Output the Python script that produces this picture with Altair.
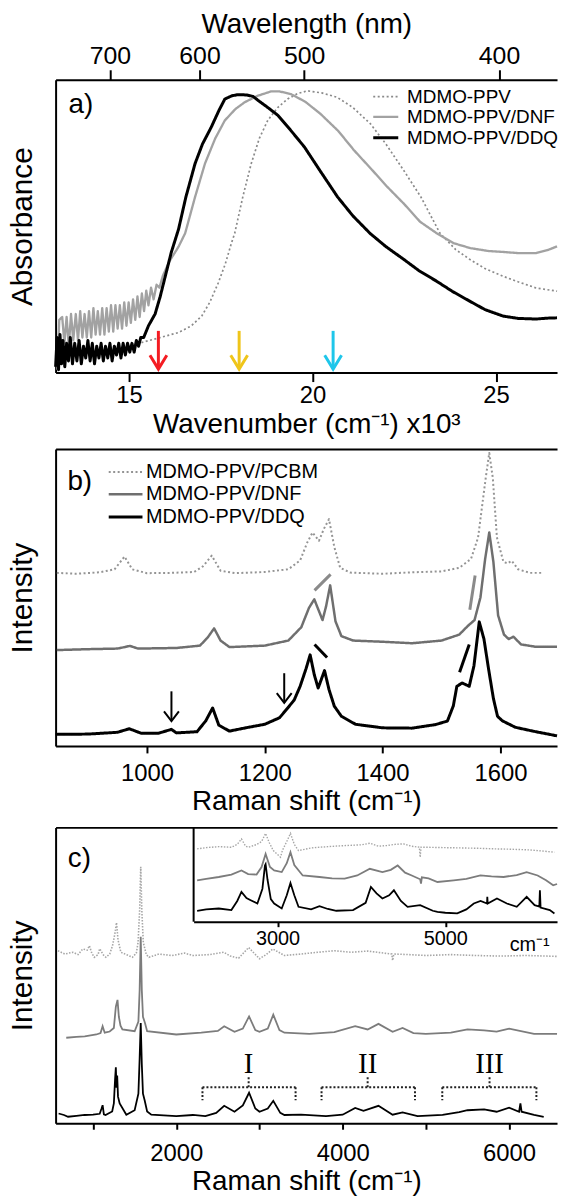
import json
import altair as alt
import pandas as pd

FONT = "Liberation Sans"
SERIF = "Liberation Serif"
W = 505

# ================= Panel a: absorbance (wavenumber x10^3 cm-1, normalised absorbance) =================
a_ppv = [(15.00, 0.085), (15.35, 0.103), (15.80, 0.118), (16.35, 0.137), (16.70, 0.160), (16.98, 0.193),
         (17.20, 0.240), (17.43, 0.306), (17.62, 0.370), (17.79, 0.442), (17.88, 0.476), (18.10, 0.600),
         (18.33, 0.714), (18.55, 0.800), (18.78, 0.861), (19.05, 0.905), (19.32, 0.934), (19.60, 0.953),
         (19.86, 0.962), (20.25, 0.955), (20.67, 0.940), (21.10, 0.905), (21.58, 0.849), (22.00, 0.780),
         (22.48, 0.691), (22.95, 0.600), (23.47, 0.476), (23.90, 0.420), (24.29, 0.386), (24.70, 0.355),
         (25.19, 0.329), (25.60, 0.310), (26.09, 0.289), (26.40, 0.283), (26.66, 0.278)]
a_dnf = [(13.05, 0.01), (13.10, 0.18), (13.18, 0.19), (13.24, 0.10), (13.30, 0.19), (13.36, 0.09), (13.42, 0.20),
         (13.48, 0.11), (13.55, 0.20), (13.61, 0.11), (13.67, 0.21), (13.73, 0.12), (13.79, 0.20), (13.85, 0.12),
         (13.91, 0.21), (13.97, 0.12), (14.03, 0.22), (14.09, 0.13), (14.15, 0.21), (14.21, 0.13), (14.27, 0.22),
         (14.33, 0.13), (14.39, 0.22), (14.45, 0.14), (14.51, 0.23), (14.57, 0.14), (14.63, 0.23), (14.69, 0.15),
         (14.75, 0.23), (14.81, 0.15), (14.87, 0.24), (14.93, 0.16), (14.99, 0.24), (15.05, 0.17), (15.11, 0.25),
         (15.17, 0.18), (15.23, 0.26), (15.29, 0.19), (15.35, 0.27), (15.41, 0.21), (15.47, 0.28), (15.53, 0.23),
         (15.60, 0.29), (15.67, 0.25), (15.75, 0.30), (15.83, 0.29), (15.92, 0.33), (16.10, 0.38), (16.35, 0.43),
         (16.53, 0.476), (16.80, 0.600), (17.07, 0.714), (17.35, 0.800), (17.61, 0.861), (17.90, 0.900),
         (18.15, 0.923), (18.50, 0.945), (18.87, 0.960), (19.10, 0.960), (19.41, 0.951), (19.80, 0.925),
         (20.22, 0.883), (20.70, 0.825), (21.13, 0.759), (21.60, 0.695), (22.03, 0.635), (22.50, 0.575),
         (22.93, 0.515), (23.38, 0.476), (23.84, 0.442), (24.30, 0.425), (24.80, 0.415), (25.19, 0.412),
         (25.60, 0.408), (26.09, 0.408), (26.40, 0.418), (26.66, 0.431)]
a_ddq = [(13.00, 0.02), (13.04, 0.12), (13.08, 0.01), (13.12, 0.13), (13.16, 0.03), (13.20, 0.11), (13.25, 0.02),
         (13.30, 0.10), (13.35, 0.04), (13.40, 0.12), (13.46, 0.03), (13.52, 0.10), (13.58, 0.04), (13.64, 0.11),
         (13.70, 0.03), (13.76, 0.09), (13.82, 0.05), (13.88, 0.11), (13.94, 0.04), (14.00, 0.10), (14.06, 0.03),
         (14.12, 0.09), (14.18, 0.05), (14.24, 0.10), (14.30, 0.04), (14.36, 0.09), (14.42, 0.05), (14.48, 0.10),
         (14.54, 0.04), (14.60, 0.09), (14.66, 0.06), (14.72, 0.10), (14.78, 0.05), (14.84, 0.10), (14.90, 0.06),
         (14.96, 0.10), (15.02, 0.07), (15.08, 0.10), (15.14, 0.07), (15.20, 0.11), (15.26, 0.09), (15.32, 0.12),
         (15.40, 0.12), (15.53, 0.16), (15.71, 0.20), (15.85, 0.26), (15.99, 0.33), (16.15, 0.41), (16.35, 0.49),
         (16.55, 0.60), (16.80, 0.714), (17.00, 0.780), (17.24, 0.838), (17.45, 0.895), (17.61, 0.934),
         (17.80, 0.945), (17.97, 0.949), (18.20, 0.948), (18.38, 0.943), (18.51, 0.930), (18.75, 0.908),
         (19.05, 0.879), (19.40, 0.828), (19.78, 0.770), (20.20, 0.690), (20.68, 0.600), (21.10, 0.535),
         (21.57, 0.475), (22.00, 0.430), (22.48, 0.387), (22.90, 0.348), (23.38, 0.312), (23.80, 0.278),
         (24.28, 0.244), (24.70, 0.215), (25.19, 0.193), (25.60, 0.185), (26.09, 0.183), (26.40, 0.186),
         (26.66, 0.187)]
a_series = ["MDMO-PPV", "MDMO-PPV/DNF", "MDMO-PPV/DDQ"]
a_colors = ["#8a8a8a", "#a2a2a2", "#000000"]
a_dash = [[2, 2.5], [1, 0], [1, 0]]
a_width = [1.7, 3, 3]
a_xdom = [13, 26.66]
a_bottom_ticks = [15, 20, 25]
a_top_tick_wn = [14.48, 16.92, 19.77, 25.08]
a_top_tick_nm = ["700", "600", "500", "400"]
a_arrow_wn = [15.8, 18.0, 20.56]
a_arrow_col = ["#f41c22", "#efc51a", "#1ec6ea"]
a_arrow_top, a_arrow_tip = 0.1425, 0.012
a_tag = ("a)", 13.69, 0.914)

# ================= Panel b: Raman 840-1700 cm-1 =================
b_pcbm = [(847, 58.3), (880, 58.0), (920, 58.5), (945, 59.5), (962, 63.8), (975, 59.5), (1000, 58.2), (1040, 58.3),
          (1080, 58.6), (1095, 60.5), (1110, 64.1), (1125, 59.0), (1150, 58.2), (1200, 58.6), (1240, 59.5),
          (1260, 62.5), (1272, 68.5), (1281, 71.9), (1292, 69.1), (1300, 73.0), (1309, 76.4), (1318, 67.0),
          (1328, 60.0), (1345, 58.4), (1400, 58.0), (1450, 58.5), (1500, 58.8), (1530, 60.0), (1550, 63.0),
          (1562, 70.2), (1575, 90.3), (1581, 98.7), (1587, 90.3), (1594, 70.2), (1605, 62.0), (1612, 61.5),
          (1619, 62.4), (1630, 59.5), (1650, 58.3), (1671, 58.3)]
b_dnf = [(847, 32.3), (900, 32.6), (950, 32.8), (962, 33.3), (971, 33.7), (985, 32.8), (1050, 33.0), (1090, 33.8),
         (1103, 36.5), (1114, 39.6), (1125, 35.5), (1140, 33.3), (1200, 33.8), (1240, 35.5), (1262, 40.0),
         (1275, 46.5), (1284, 49.4), (1298, 42.4), (1304, 47.0), (1311, 54.1), (1320, 42.0), (1330, 37.0),
         (1350, 35.5), (1400, 35.1), (1450, 34.6), (1500, 35.5), (1530, 37.5), (1545, 40.5), (1556, 42.4),
         (1566, 50.0), (1574, 63.0), (1581, 71.9), (1588, 62.0), (1596, 44.0), (1606, 37.5), (1614, 36.0),
         (1622, 36.8), (1635, 34.2), (1660, 33.4), (1696, 33.4)]
b_ddq = [(845, 3.9), (900, 4.0), (950, 4.6), (970, 5.8), (990, 4.3), (1020, 4.3), (1041.6, 5.6), (1050, 4.4),
         (1085, 4.8), (1100, 8.5), (1111.5, 12.8), (1122, 7.0), (1140, 5.0), (1170, 6.2), (1200, 7.3), (1225, 9.5),
         (1239, 12.8), (1250, 15.5), (1260, 20.1), (1270, 26.0), (1277, 30.7), (1284, 24.0), (1290.6, 19.5),
         (1301.4, 25.4), (1309, 19.0), (1318, 13.4), (1330, 10.0), (1354, 7.3), (1400, 6.1), (1450, 6.0),
         (1490, 7.2), (1510, 8.4), (1520, 13.5), (1526, 20.1), (1535, 21.2), (1547, 20.1), (1555, 27.0),
         (1564, 41.8), (1572, 36.0), (1580, 25.7), (1588, 16.0), (1595, 10.0), (1603, 8.5), (1610, 7.8),
         (1625, 6.3), (1655, 5.0), (1696, 3.4)]
b_series = ["MDMO-PPV/PCBM", "MDMO-PPV/DNF", "MDMO-PPV/DDQ"]
b_colors = ["#949494", "#6f6f6f", "#000000"]
b_dash = [[2, 2.5], [1, 0], [1, 0]]
b_width = [2, 3, 2.6]
b_xdom = [845, 1696]
b_ticks = [1000, 1200, 1400, 1600]
b_arrow_wn = [1041.6, 1233]
b_arrow_top = [18.4, 24.5]
b_arrow_tip = [8.4, 14.5]
# marker dashes: (x1, y1, x2, y2, colour)
b_marks = [(1284.5, 52.4, 1311.7, 57.8, "#8a8a8a"), (1557, 57.4, 1548, 45.9, "#8a8a8a"),
           (1284.5, 34.2, 1305.7, 29.8, "#000000"), (1547, 34.2, 1530.6, 24.8, "#000000")]
b_tag = ("b)", 886, 89.0)

# ================= Panel c: Raman 550-6600 cm-1 =================
c_pcbm = [(578, 58.3), (660, 57.2), (757, 57.8), (820, 57.0), (876, 58.9), (930, 58.5), (956, 60.0), (985, 57.5),
          (1015, 56.1), (1060, 57.0), (1080, 59.0), (1095, 58.3), (1120, 57.0), (1155, 56.1), (1200, 57.2),
          (1234, 60.0), (1262, 64.0), (1282, 67.8), (1300, 62.0), (1334, 57.8), (1400, 57.0), (1473, 56.1),
          (1520, 57.5), (1541, 61.1), (1560, 72.0), (1573, 86.7), (1586, 72.0), (1604, 61.1), (1640, 57.0),
          (1672, 56.1), (1791, 57.2), (1950, 56.7), (2100, 57.5), (2200, 56.7), (2400, 57.0), (2572, 57.8),
          (2650, 56.5), (2750, 55.8), (2870, 59.4), (3000, 55.6), (3080, 57.0), (3161, 58.9), (3300, 56.7),
          (3500, 57.2), (3700, 57.8), (3900, 58.3), (4100, 57.8), (4300, 58.2), (4500, 57.5), (4590, 57.2),
          (4600, 55.0), (4615, 57.2), (4800, 57.0), (5000, 56.7), (5300, 57.0), (5600, 56.7), (5900, 56.5),
          (6200, 56.7), (6576, 56.4)]
c_dnf = [(678, 28.9), (800, 29.2), (900, 29.4), (1040, 30.0), (1090, 30.5), (1115, 32.8), (1140, 30.6), (1200, 31.0),
         (1250, 32.2), (1274, 39.4), (1294, 41.7), (1310, 36.0), (1330, 33.0), (1353, 31.7), (1500, 31.1),
         (1545, 34.4), (1560, 45.0), (1573, 63.0), (1586, 45.0), (1600, 36.0), (1624, 33.9), (1650, 31.1),
         (2000, 30.0), (2300, 30.6), (2500, 31.2), (2576, 32.8), (2700, 30.9), (2800, 32.0), (2875, 36.1),
         (2950, 31.5), (3000, 30.9), (3100, 32.0), (3166, 36.7), (3240, 31.5), (3300, 30.6), (3600, 30.2),
         (3900, 30.8), (4150, 32.8), (4300, 31.7), (4430, 33.6), (4600, 30.9), (4720, 32.2), (4850, 30.5),
         (5000, 30.2), (5300, 30.6), (5500, 31.7), (5700, 31.4), (5850, 31.0), (6000, 32.0), (6300, 30.2),
         (6576, 30.2)]
c_ddq = [(586, 3.3), (650, 2.8), (700, 2.2), (800, 2.5), (900, 2.8), (1000, 2.9), (1080, 3.2), (1100, 4.8),
         (1115, 6.1), (1130, 3.0), (1150, 2.8), (1230, 4.0), (1250, 6.7), (1265, 15.0), (1274, 18.9), (1282, 12.0),
         (1290, 16.1), (1300, 9.0), (1320, 6.7), (1400, 2.9), (1500, 4.4), (1545, 10.0), (1560, 22.0),
         (1573, 33.9), (1586, 20.0), (1600, 10.0), (1620, 7.8), (1650, 4.0), (1700, 2.9), (2000, 2.4),
         (2200, 2.8), (2350, 2.4), (2480, 3.5), (2576, 5.9), (2700, 3.9), (2800, 6.0), (2875, 10.3), (2950, 5.0),
         (3000, 3.9), (3100, 5.0), (3166, 7.6), (3250, 3.5), (3300, 2.8), (3500, 2.9), (3800, 2.4), (4000, 2.9),
         (4150, 5.2), (4250, 4.2), (4430, 5.9), (4600, 2.9), (4720, 3.7), (4900, 2.4), (5200, 2.8), (5400, 3.8),
         (5500, 4.4), (5700, 4.7), (5850, 3.9), (6000, 5.3), (6120, 3.9), (6136, 6.7), (6150, 3.9), (6300, 2.8),
         (6416, 2.2)]
c_colors = ["#a6a6a6", "#7c7c7c", "#000000"]
c_xdom = [550, 6576]
c_ticks = [1000, 2000, 3000, 4000, 5000, 6000]
c_bracket_start = [2315, 3746, 5197]
c_bracket_end = [3434, 4869, 6328]
c_bracket_mid = [2870, 4300, 5765]
c_bracket_label = ["I", "II", "III"]
c_bracket_y, c_bracket_foot, c_bracket_head, c_label_y = 12.2, 7.8, 15.6, 20.0
c_tag = ("c)", 836, 89.4)

# inset (2000-6330 cm-1)
i_pcbm = [(2042, 77.2), (2150, 78.5), (2300, 79.6), (2450, 78.9), (2520, 82.0), (2570, 87.7), (2620, 80.0),
          (2655, 78.9), (2750, 81.8), (2810, 85.0), (2858, 93.6), (2900, 84.0), (2950, 75.4), (3035, 68.4),
          (3060, 76.0), (3110, 85.0), (3154, 93.6), (3200, 82.0), (3250, 75.4), (3400, 78.2), (3600, 79.6),
          (3800, 80.7), (4000, 81.5), (4100, 83.2), (4200, 80.0), (4300, 80.7), (4400, 82.0), (4500, 82.5),
          (4600, 80.0), (4690, 79.0), (4700, 68.4), (4710, 79.0), (4800, 78.9), (5000, 78.5), (5200, 78.2),
          (5400, 77.8), (5600, 77.2), (5800, 76.8), (6000, 76.1), (6150, 75.0), (6300, 73.7)]
i_dnf = [(2042, 43.9), (2150, 45.5), (2300, 47.4), (2450, 50.0), (2570, 54.4), (2650, 50.5), (2750, 50.0),
         (2810, 58.0), (2858, 71.9), (2910, 58.0), (2960, 54.4), (3050, 52.6), (3110, 62.0), (3154, 73.7),
         (3200, 60.0), (3300, 49.0), (3500, 47.4), (3650, 46.0), (3800, 45.6), (3950, 49.0), (4100, 56.1),
         (4250, 52.6), (4350, 55.0), (4432, 59.6), (4520, 52.0), (4600, 49.0), (4700, 45.0), (4710, 40.4),
         (4720, 47.0), (4800, 46.0), (4906, 42.1), (5100, 43.9), (5250, 45.5), (5418, 49.1), (5550, 48.0),
         (5694, 47.4), (5850, 49.5), (5969, 52.6), (6100, 49.0), (6200, 44.0), (6285, 38.6), (6331, 40.0)]
i_ddq = [(2042, 11.6), (2150, 13.0), (2300, 14.0), (2450, 12.3), (2520, 22.0), (2570, 31.6), (2630, 25.0),
         (2680, 22.8), (2760, 19.3), (2820, 35.0), (2850, 59.6), (2858, 61.0), (2880, 45.0), (2920, 24.0),
         (2960, 19.3), (3050, 14.0), (3110, 28.0), (3154, 41.1), (3200, 28.0), (3250, 15.8), (3400, 13.0),
         (3500, 16.5), (3600, 13.5), (3700, 11.6), (3900, 12.3), (4050, 20.0), (4113, 36.8), (4180, 30.0),
         (4250, 24.6), (4330, 28.0), (4387, 33.3), (4470, 22.0), (4550, 15.8), (4700, 17.5), (4850, 11.6),
         (4906, 10.5), (5000, 9.5), (5142, 8.8), (5250, 13.0), (5339, 19.3), (5420, 22.0), (5497, 19.3),
         (5500, 26.3), (5505, 19.3), (5615, 24.6), (5733, 19.3), (5851, 15.8), (5969, 26.3), (6064, 17.5),
         (6120, 16.0), (6127, 33.3), (6135, 15.0), (6245, 12.3), (6300, 8.8)]
i_xdom = [2000, 6331]
i_xrange = [139, 505]
i_height = 95
i_ticks = [3000, 5000]
i_unit = ("cm\u207b\u00b9", 6005, -14)

# ================= helpers =================
AXIS_COMMON = dict(labelFont=FONT, titleFont=FONT, labelColor="black", titleColor="black",
                   domainColor="black", tickColor="black", domainWidth=2, tickWidth=2, grid=False,
                   titleFontWeight="normal")
C_HEIGHT = 298


def frame(pairs, name=None):
    d = pd.DataFrame(pairs, columns=["wn", "v"])
    if name is not None:
        d["series"] = name
    return d


def xs(dom):
    return alt.Scale(domain=dom, nice=False, zero=False)


def ys():
    return alt.Scale(domain=[0, 100], nice=False, zero=False)


def yaxis(title):
    return alt.Axis(title=title, labels=False, ticks=False, titleFontSize=30, titlePadding=18, **AXIS_COMMON)


def top_border(dom, pairs, **kw):
    return alt.Chart(frame(pairs)).mark_point(opacity=0).encode(
        x=alt.X("wn:Q", scale=xs(dom), axis=alt.Axis(orient="top", **kw, **AXIS_COMMON)))


def chevron(ratio):
    return "M-1,-%s L0,0 L1,-%s" % (ratio, ratio)


# ================= Panel a =================
a_df = pd.concat([frame(a_ppv, a_series[0]), frame(a_dnf, a_series[1]), frame(a_ddq, a_series[2])])
a_leg = alt.Legend(orient="none", legendX=322, legendY=7, title=None, labelFontSize=19, labelFont=FONT,
                   labelColor="black", symbolType="M-1.4,0H1.4", symbolSize=324, labelLimit=400, rowPadding=0,
                   labelOffset=11)
a_x = alt.X("wn:Q", scale=xs(a_xdom),
            axis=alt.Axis(title="Wavenumber (cm\u207b\u00b9) x10\u00b3", values=a_bottom_ticks, tickSize=9,
                          labelFontSize=24, labelPadding=2, titleFontSize=28, titlePadding=3, format="d",
                          **AXIS_COMMON))
a_y = alt.Y("v:Q", scale=alt.Scale(domain=[0, 1], nice=False, zero=False), axis=yaxis("Absorbance"))
a_lines = alt.Chart(a_df).mark_line(strokeJoin="round").encode(
    x=a_x, y=a_y,
    color=alt.Color("series:N", scale=alt.Scale(domain=a_series, range=a_colors), legend=a_leg),
    strokeDash=alt.StrokeDash("series:N", scale=alt.Scale(domain=a_series, range=a_dash), legend=a_leg),
    strokeWidth=alt.StrokeWidth("series:N", scale=alt.Scale(domain=a_series, range=a_width), legend=a_leg),
)
a_arr = pd.DataFrame({"wn": a_arrow_wn, "col": a_arrow_col, "top": a_arrow_top, "tip": a_arrow_tip})
a_stems = alt.Chart(a_arr).mark_rule(strokeWidth=3).encode(
    x=alt.X("wn:Q", scale=xs(a_xdom)), y=alt.Y("top:Q"), y2="tip:Q", color=alt.Color("col:N", scale=None))
a_heads = alt.Chart(a_arr).mark_point(shape=chevron(1.65), filled=False, strokeWidth=3, size=289, opacity=1).encode(
    x=alt.X("wn:Q", scale=xs(a_xdom)), y=alt.Y("tip:Q"), color=alt.Color("col:N", scale=None))
a_text = alt.Chart(pd.DataFrame([a_tag], columns=["t", "wn", "v"])).mark_text(
    fontSize=28, font=FONT, align="center", baseline="middle", color="black").encode(
    x=alt.X("wn:Q", scale=xs(a_xdom)), y="v:Q", text="t:N")
a_top = alt.Chart(pd.DataFrame({"wn": a_top_tick_wn})).mark_point(opacity=0).encode(
    x=alt.X("wn:Q", scale=xs(a_xdom),
            axis=alt.Axis(orient="top", values=a_top_tick_wn,
                          labelExpr="%s[indexof(%s, datum.value)]" % (json.dumps(a_top_tick_nm), json.dumps(a_top_tick_wn)),
                          title="Wavelength (nm)", tickSize=10, labelFontSize=25, labelPadding=1,
                          titleFontSize=28, titlePadding=6, **AXIS_COMMON)))
panel_a = alt.layer(alt.layer(a_lines, a_stems, a_heads, a_text), a_top).resolve_scale(x="independent").properties(
    width=W, height=295)

# ================= Panel b =================
b_df = pd.concat([frame(b_pcbm, b_series[0]), frame(b_dnf, b_series[1]), frame(b_ddq, b_series[2])])
b_df = b_df.rename(columns={"series": "sample"})
b_leg = alt.Legend(orient="none", legendX=59, legendY=12, title=None, labelFontSize=20, labelFont=FONT,
                   labelColor="black", symbolType="M-1.7,0H1.7", symbolSize=400, labelLimit=400, rowPadding=1,
                   labelOffset=9)
b_x = alt.X("wn:Q", scale=xs(b_xdom),
            axis=alt.Axis(title="Raman shift (cm\u207b\u00b9)", values=b_ticks, tickSize=7, labelFontSize=24,
                          labelPadding=9, titleFontSize=28, titlePadding=2, format="d", **AXIS_COMMON))
b_y = alt.Y("v:Q", scale=ys(), axis=yaxis("Intensity"))
b_lines = alt.Chart(b_df).mark_line(strokeJoin="round").encode(
    x=b_x, y=b_y,
    color=alt.Color("sample:N", scale=alt.Scale(domain=b_series, range=b_colors), legend=b_leg),
    strokeDash=alt.StrokeDash("sample:N", scale=alt.Scale(domain=b_series, range=b_dash), legend=b_leg),
    strokeWidth=alt.StrokeWidth("sample:N", scale=alt.Scale(domain=b_series, range=b_width), legend=b_leg),
)
b_arr = pd.DataFrame({"wn": b_arrow_wn, "top": b_arrow_top, "tip": b_arrow_tip})
b_stems = alt.Chart(b_arr).mark_rule(strokeWidth=2, color="black").encode(
    x=alt.X("wn:Q", scale=xs(b_xdom)), y="top:Q", y2="tip:Q")
b_heads = alt.Chart(b_arr).mark_point(shape=chevron(1.3), filled=False, strokeWidth=2, size=225, color="black",
                                      opacity=1).encode(x=alt.X("wn:Q", scale=xs(b_xdom)), y="tip:Q")
b_mk = pd.DataFrame(b_marks, columns=["x1", "y1", "x2", "y2", "col"])
b_dashes = alt.Chart(b_mk).mark_rule(strokeWidth=3).encode(
    x=alt.X("x1:Q", scale=xs(b_xdom)), x2="x2:Q", y="y1:Q", y2="y2:Q", color=alt.Color("col:N", scale=None))
b_text = alt.Chart(pd.DataFrame([b_tag], columns=["t", "wn", "v"])).mark_text(
    fontSize=28, font=FONT, align="center", baseline="middle", color="black").encode(
    x=alt.X("wn:Q", scale=xs(b_xdom)), y="v:Q", text="t:N")
b_top = top_border(b_xdom, b_ddq[:2], labels=False, ticks=False, title=None)
panel_b = alt.layer(alt.layer(b_lines, b_stems, b_heads, b_dashes, b_text), b_top).resolve_scale(
    x="independent").properties(width=W, height=299)

# ================= Panel c =================
c_x = alt.X("wn:Q", scale=xs(c_xdom),
            axis=alt.Axis(title="Raman shift (cm\u207b\u00b9)", values=c_ticks, tickSize=6, labelFontSize=24,
                          labelPadding=12, titleFontSize=28, titlePadding=3, format="d",
                          labelExpr="datum.value % 2000 == 0 ? datum.label : ''", **AXIS_COMMON))
c_y = alt.Y("v:Q", scale=ys(), axis=yaxis("Intensity"))
c_l1 = alt.Chart(frame(c_pcbm)).mark_line(color=c_colors[0], strokeWidth=1.6, strokeDash=[1.5, 1.5]).encode(x=c_x, y=c_y)
c_l2 = alt.Chart(frame(c_dnf)).mark_line(color=c_colors[1], strokeWidth=1.8).encode(x=alt.X("wn:Q", scale=xs(c_xdom)), y="v:Q")
c_l3 = alt.Chart(frame(c_ddq)).mark_line(color=c_colors[2], strokeWidth=1.8).encode(x=alt.X("wn:Q", scale=xs(c_xdom)), y="v:Q")
c_br = pd.DataFrame({"s": c_bracket_start, "e": c_bracket_end, "m": c_bracket_mid, "lab": c_bracket_label,
                     "y": c_bracket_y, "f": c_bracket_foot, "h": c_bracket_head, "ly": c_label_y})
BR = dict(strokeWidth=2, strokeDash=[2, 2], color="#222222")
c_br_h = alt.Chart(c_br).mark_rule(**BR).encode(x=alt.X("s:Q", scale=xs(c_xdom)), x2="e:Q", y="y:Q")
c_br_l = alt.Chart(c_br).mark_rule(**BR).encode(x=alt.X("s:Q", scale=xs(c_xdom)), y="y:Q", y2="f:Q")
c_br_r = alt.Chart(c_br).mark_rule(**BR).encode(x=alt.X("e:Q", scale=xs(c_xdom)), y="y:Q", y2="f:Q")
c_br_m = alt.Chart(c_br).mark_rule(**BR).encode(x=alt.X("m:Q", scale=xs(c_xdom)), y="y:Q", y2="h:Q")
c_br_t = alt.Chart(c_br).mark_text(font=SERIF, fontSize=29, baseline="middle", align="center", color="black").encode(
    x=alt.X("m:Q", scale=xs(c_xdom)), y="ly:Q", text="lab:N")
c_text = alt.Chart(pd.DataFrame([c_tag], columns=["t", "wn", "v"])).mark_text(
    fontSize=28, font=FONT, align="center", baseline="middle", color="black").encode(
    x=alt.X("wn:Q", scale=xs(c_xdom)), y="v:Q", text="t:N")
c_main = alt.layer(c_l1, c_l2, c_l3, c_br_h, c_br_l, c_br_r, c_br_m, c_br_t, c_text)

ix = alt.Scale(domain=i_xdom, range=i_xrange, nice=False, zero=False)
iy = alt.Scale(domain=[0, 100], range=[i_height, 0], nice=False, zero=False)
i_l1 = alt.Chart(frame(i_pcbm)).mark_line(color=c_colors[0], strokeWidth=1.4, strokeDash=[1.5, 1.5]).encode(
    x=alt.X("wn:Q", scale=ix, axis=alt.Axis(orient="bottom", offset=-(C_HEIGHT - i_height), values=i_ticks,
                                             tickSize=5, labelFontSize=20, labelPadding=2, title=None, format="d",
                                             **AXIS_COMMON)),
    y=alt.Y("v:Q", scale=iy, axis=None))
i_l2 = alt.Chart(frame(i_dnf)).mark_line(color=c_colors[1], strokeWidth=1.8).encode(
    x=alt.X("wn:Q", scale=ix), y=alt.Y("v:Q", scale=iy))
i_l3 = alt.Chart(frame(i_ddq)).mark_line(color=c_colors[2], strokeWidth=1.8).encode(
    x=alt.X("wn:Q", scale=ix), y=alt.Y("v:Q", scale=iy))
i_edge = alt.Chart(pd.DataFrame({"wn": [i_xdom[0]], "lo": [0], "hi": [100]})).mark_rule(
    strokeWidth=2, color="black").encode(x=alt.X("wn:Q", scale=ix), y=alt.Y("lo:Q", scale=iy), y2="hi:Q")
i_txt = alt.Chart(pd.DataFrame([i_unit], columns=["t", "wn", "v"])).mark_text(
    fontSize=20, font=FONT, align="center", baseline="top", color="black").encode(
    x=alt.X("wn:Q", scale=ix), y=alt.Y("v:Q", scale=iy), text="t:N")
c_inset = alt.layer(i_l1, i_l2, i_l3, i_edge, i_txt)
c_top = top_border(c_xdom, c_ddq[:2], labels=False, ticks=False, title=None)
panel_c = alt.layer(c_main, c_inset, c_top).resolve_scale(x="independent", y="independent").properties(
    width=W, height=C_HEIGHT)

chart = alt.vconcat(panel_a, panel_b, panel_c, spacing=11).resolve_scale(
    color="independent", strokeDash="independent", strokeWidth="independent").resolve_legend(
    color="independent", strokeDash="independent", strokeWidth="independent").properties(
    padding={"left": 8, "top": 6, "right": 0, "bottom": 0}, background="white").configure_view(stroke=None)

chart.save("out.html", embed_options={"renderer": "svg", "actions": False})
